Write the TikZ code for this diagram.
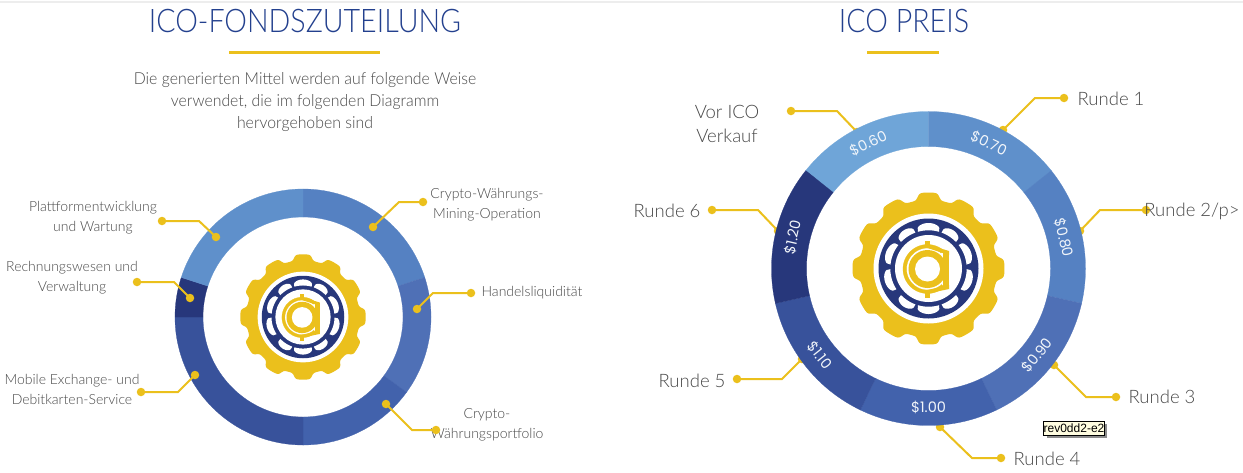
\documentclass[tikz,border=0pt]{standalone}
\usepackage{fontspec}
\setmainfont{Lato}[UprightFont=* Light,BoldFont=* Regular]
\newfontfamily\titlefont{Lato}[UprightFont=* Light,FakeStretch=.88]
\newfontfamily\introfont{Lato}[UprightFont=* Light,FakeStretch=.96]
\newfontfamily\pricefont{Poppins}
\newfontfamily\tipfont{Liberation Sans}
\definecolor{gold}{HTML}{EBC01C}
\definecolor{navy}{HTML}{27377B}
\definecolor{titleblue}{HTML}{23408E}
\definecolor{bodygrey}{HTML}{484848}
\definecolor{sA}{HTML}{6FA5D8}
\definecolor{sB}{HTML}{5F90CB}
\definecolor{sC}{HTML}{5581C2}
\definecolor{sD}{HTML}{4F70B6}
\definecolor{sE}{HTML}{4262AC}
\definecolor{sF}{HTML}{38529B}
\definecolor{sG}{HTML}{27377B}
% annular sector; angles in the usual sense as seen on the page
\newcommand\ringsect[5]{\path[fill=#1,draw=#1,line width=.25pt] plot[domain=#2:#3,samples=70] ({-\x}:{#5}) -- plot[domain=#3:#2,samples=70] ({-\x}:{#4}) -- cycle;}
% white cell of the wheel: flat on its inner side, tapering to both ends
\newcommand\wheelcell[2]{\fill[white] plot[domain=#1-#2:#1+#2,samples=31] ({-\x}:{38.2+7.3*pow(abs(cos(90*(\x-(#1))/(#2))),0.3)}) -- plot[domain=#1+#2:#1-#2,samples=15] ({-\x}:{38.2}) -- cycle;}
\tikzset{
  title/.style={font=\titlefont\fontsize{32.5}{36}\selectfont,text=titleblue,inner sep=0pt},
  intro/.style={font=\introfont\fontsize{16.5}{22}\selectfont,text=bodygrey,align=center,inner sep=0pt},
  smalllabel/.style={font=\fontsize{14}{20}\selectfont,text=bodygrey,align=center,inner sep=0pt},
  biglabel/.style={font=\fontsize{18.5}{24}\selectfont,text=bodygrey,align=center,inner sep=0pt},
  price/.style={font=\pricefont\fontsize{14.5}{16}\selectfont,text=white!92!sC,inner sep=0pt},
  leader/.style={draw=gold,line width=2pt},
  dot/.style={circle,fill=gold,minimum size=8.5pt,inner sep=0pt},
  rule/.style={draw=gold,line width=2.2pt},
  gearlogo/.pic={
    \fill[gold] plot[domain=0:360,samples=361] ({\x}:{68.5+7.5*(0.5+0.5*tanh(2.5*cos(12*\x)+0.6))}) -- cycle;
    \fill[white] (0,0) circle[radius=55];
    \fill[navy] (0,0) circle[radius=50];
    \foreach \a/\w in {90/16,57/13,22/16,-17/16,-57/13,-90/16,-123/13,-163/16,158/16,123/13}{
      \wheelcell{\a}{\w}
    }
    \fill[white] (0,0) circle[radius=33.5];
    \begin{scope}[shift={(-1,.5)}]
      \ringsect{gold}{50}{312}{21}{24.5}
      \fill[gold] (15,-17) rectangle (21.5,20);
      \fill[gold] (0,-24.5) -- (21.5,-18) -- (21.5,-14) -- (0,-21) -- cycle;
      \fill[gold] (0,24.5) -- (21.5,20) -- (21.5,16) -- (0,21) -- cycle;
      \fill[gold] (0,0) circle[radius=19];
      \fill[white] (0,0) circle[radius=12.5];
      \fill[gold] (-2.5,-28.5) rectangle (2.5,-24);
      \fill[gold] (-2.5,24) rectangle (2.5,28.5);
    \end{scope}
  }
}
\begin{document}
\begin{tikzpicture}[x=1pt,y=-1pt]
\useasboundingbox (0,0) rectangle (1243,472);
\fill[white] (0,0) rectangle (1243,472);
\draw[draw=black!7,line width=1.5pt] (0,2.2) -- (1243,2.2);

% left column
\node[title] (t1) at (305,21) {ICO-FONDSZUTEILUNG};
\draw[rule] (229,52.5) -- (380,52.5);
\node[intro] (intro) at (305,102) {Die generierten Mittel werden auf folgende Weise\\verwendet, die im folgenden Diagramm\\hervorgehoben sind};

\begin{scope}[shift={(303,317)}]
  \ringsect{sC}{18}{90}{100}{128}
  \ringsect{sD}{-36}{18}{100}{128}
  \ringsect{sE}{-90}{-36}{100}{128}
  \ringsect{sF}{180}{270}{100}{128}
  \ringsect{sG}{162}{180}{100}{128}
  \ringsect{sB}{90}{162}{100}{128}
\end{scope}
\pic[scale=.825] at (303,317) {gearlogo};

\node[smalllabel] (l1) at (93,217.5) {Plattformentwicklung\\und Wartung};
\node[smalllabel] (l2) at (72,277.5) {Rechnungswesen und\\Verwaltung};
\node[smalllabel] (l3) at (72,389) {Mobile Exchange- und\\Debitkarten-Service};
\node[smalllabel] (l4) at (487,205) {Crypto-Währungs-\\Mining-Operation};
\node[smalllabel] (l5) at (532,293) {Handelsliquidität};
\node[smalllabel] (l6) at (487,425) {Crypto-\\Währungsportfolio};

\foreach \n/\ax/\ay/\bx/\by/\cx/\cy in {
  a/162/221/199/221/216/237,
  b/137/282/174/282/190/298,
  c/141/392/178/392/195/375,
  d/423/202/399/202/373/227,
  e/471/293/433/293/417/309,
  f/436/430/412/430/386/404,
  g/791/111/837/111/857/132,
  h/712/210/758/210/778/231,
  i/737/379/782/379/802/359,
  j/1064/98/1035/98/1003/130,
  k/1146/210/1100/210/1080/231,
  m/1116/397/1086/397/1054/365,
  n/1001/458/972/458/940/427}{
  \node[dot] (\n1) at (\ax,\ay) {};
  \coordinate (\n2) at (\bx,\by);
  \node[dot] (\n3) at (\cx,\cy) {};
  \draw[leader] (\n1.center) -- (\n2) -- (\n3.center);
}

% right column
\node[title] (t2) at (904,21) {ICO PREIS};
\draw[rule] (867,52.5) -- (939,52.5);

\begin{scope}[shift={(928.5,268.5)}]
  \ringsect{sA}{90}{141.43}{122}{157}
  \ringsect{sB}{38.57}{90}{122}{157}
  \ringsect{sC}{-12.86}{38.57}{122}{157}
  \ringsect{sD}{-64.29}{-12.86}{122}{157}
  \ringsect{sE}{-115.71}{-64.29}{122}{157}
  \ringsect{sF}{-167.14}{-115.71}{122}{157}
  \ringsect{sG}{141.43}{192.86}{122}{157}
  \node[price,rotate=25.7] (p0) at ({-115.7}:139) {\$0.60};
  \node[price,rotate=-25.7] (p1) at ({-64.3}:139) {\$0.70};
  \node[price,rotate=-77.1] (p2) at ({-12.9}:139) {\$0.80};
  \node[price,rotate=51.4] (p3) at ({38.6}:139) {\$0.90};
  \node[price] (p4) at ({90}:139) {\$1.00};
  \node[price,rotate=-51.4] (p5) at ({141.4}:139) {\$1.10};
  \node[price,rotate=77.1] (p6) at ({192.9}:139) {\$1.20};
\end{scope}
\pic at (928.5,268.5) {gearlogo};

\node[biglabel] (r0) at (727,124) {Vor ICO\\Verkauf};
\node[biglabel] (r1) at (1111,99) {Runde 1};
\node[biglabel] (r2) at (1192,211) {Runde 2/p>};
\node[biglabel] (r3) at (1162,397) {Runde 3};
\node[biglabel] (r4) at (1047,459) {Runde 4};
\node[biglabel] (r5) at (692,381) {Runde 5};
\node[biglabel] (r6) at (667,211) {Runde 6};

\fill[black!45] (1047,424) rectangle (1107,438);
\node[draw=black,line width=.8pt,fill=yellow!12,text=black,font=\tipfont\fontsize{12}{14}\selectfont,minimum width=60pt,minimum height=14pt,inner sep=0pt] (tip) at (1074,428) {rev0dd2-e2};
\end{tikzpicture}
\end{document}
